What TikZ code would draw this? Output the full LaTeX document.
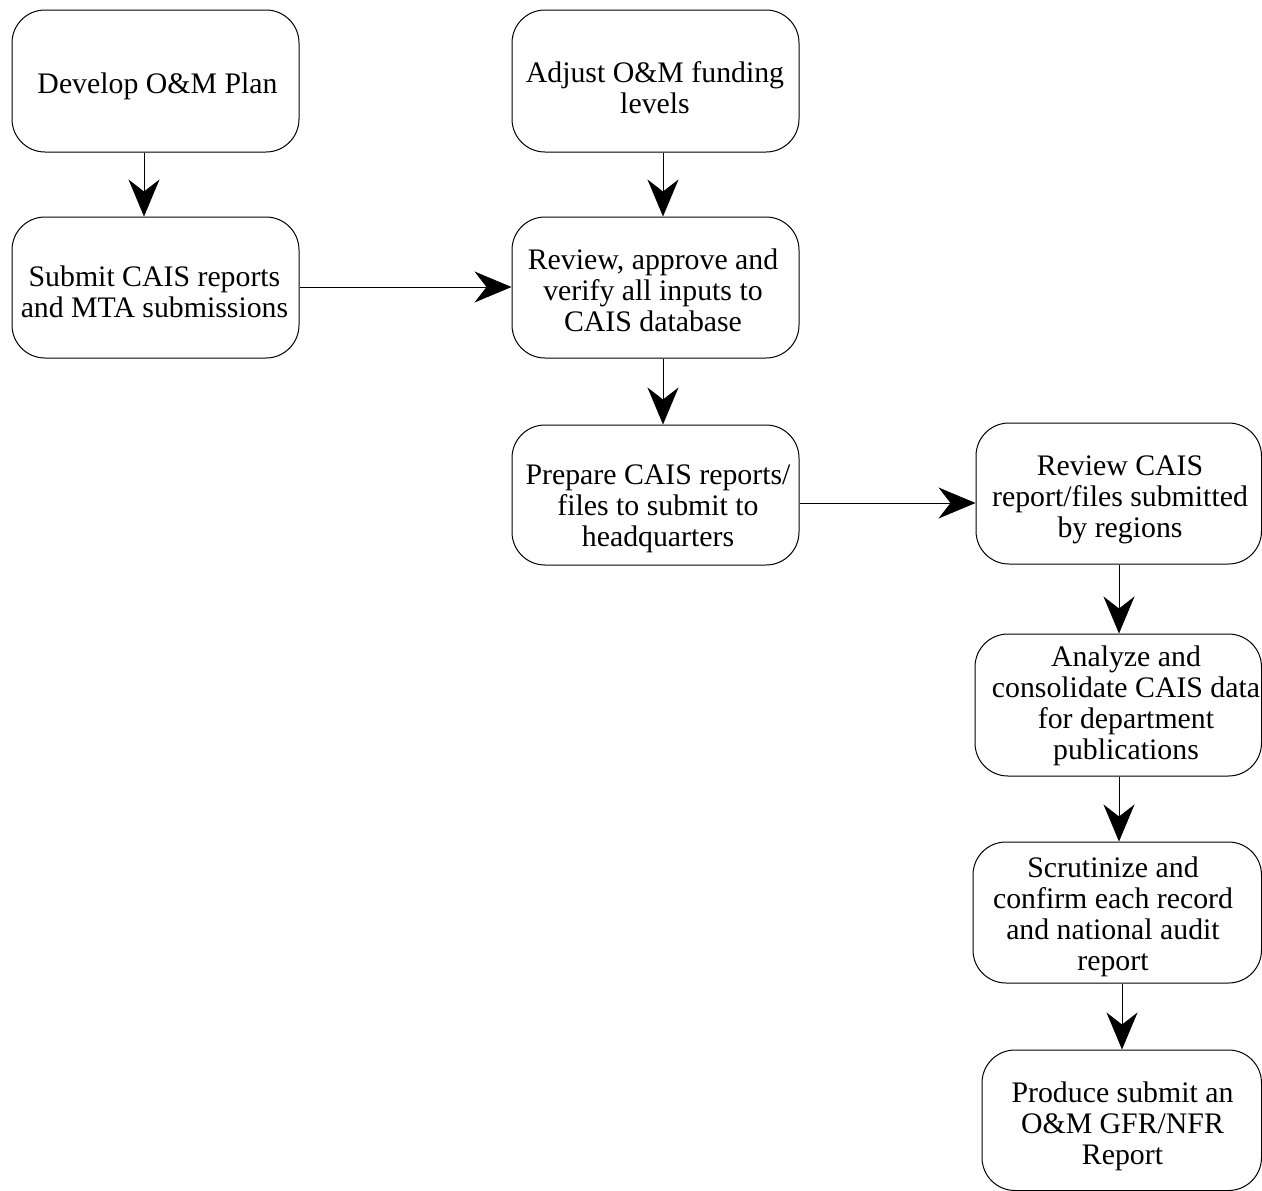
\documentclass[tikz,border=0pt]{standalone}
\usepackage{fontspec}
\setmainfont{Liberation Serif}
\usetikzlibrary{arrows.meta}
\begin{document}
\begin{tikzpicture}[x=1pt,y=-1pt,
  procbox/.style={draw, rounded corners=33pt, line width=1pt, inner sep=0pt},
  proctext/.style={inner sep=0pt, align=center, font=\fontsize{29.8}{31}\selectfont},
  flow/.style={line width=0.9pt, -{Stealth[length=37pt,width=31pt,inset=12pt]}}]
\useasboundingbox (0,0) rectangle (1262,1191);
% boxes
\node[procbox, minimum width=287pt, minimum height=142pt] (dev)   at (155.5,81) {};
\node[procbox, minimum width=287pt, minimum height=141pt] (sub)   at (155.5,287.5) {};
\node[procbox, minimum width=287pt, minimum height=142pt] (adj)   at (655.5,81) {};
\node[procbox, minimum width=287pt, minimum height=141pt] (rev)   at (655.5,287.5) {};
\node[procbox, minimum width=287pt, minimum height=140pt] (prep)  at (655.5,495) {};
\node[procbox, minimum width=285.5pt, minimum height=141pt] (rcais) at (1118.75,493.5) {};
\node[procbox, minimum width=286.5pt, minimum height=142pt] (ana)   at (1118.25,705) {};
\node[procbox, minimum width=288.5pt, minimum height=141pt] (scr)   at (1117.25,912.5) {};
\node[procbox, minimum width=279.5pt, minimum height=140.5pt] (prod) at (1121.75,1120.25) {};
% box texts
\node[proctext] (dev-t)   at (157.5,86.8)  {\strut Develop O\&M Plan};
\node[proctext] (sub-t)   at (154.5,295.8) {\strut Submit CAIS reports\\and MTA submissions\strut};
\node[proctext] (adj-t)   at (655,91.3)    {\strut Adjust O\&M funding\\levels\strut};
\node[proctext] (rev-t)   at (653,294.5)   {\strut Review, approve and\\verify all inputs to\\CAIS database\strut};
\node[proctext] (prep-t)  at (658,508.8)   {\strut Prepare CAIS reports/\\files to submit to\\headquarters\strut};
\node[proctext] (rcais-t) at (1120,499.8)  {\strut Review CAIS\\report/files submitted\\by regions\strut};
\node[proctext] (ana-t)   at (1126,706.5)  {\strut Analyze and\\consolidate CAIS data\\for department\\publications\strut};
\node[proctext] (scr-t)   at (1113,917.5)  {\strut Scrutinize and\\confirm each record\\and national audit\\report\strut};
\node[proctext] (prod-t)  at (1122.5,1127) {\strut Produce submit an\\O\&M GFR/NFR\\Report\strut};
% connector lanes
\coordinate (c1) at (144,0);
\coordinate (c2) at (663,0);
\coordinate (c3) at (0,287);
\coordinate (c4) at (0,503);
\coordinate (c5) at (1119,0);
\coordinate (c6) at (1122,0);
% connectors
\draw[flow] (dev.south -| c1) -- (sub.north -| c1);
\draw[flow] (sub.east |- c3) -- (rev.west |- c3);
\draw[flow] (adj.south -| c2) -- (rev.north -| c2);
\draw[flow] (rev.south -| c2) -- (prep.north -| c2);
\draw[flow] (prep.east |- c4) -- (rcais.west |- c4);
\draw[flow] (rcais.south -| c5) -- (ana.north -| c5);
\draw[flow] (ana.south -| c5) -- (scr.north -| c5);
\draw[flow] (scr.south -| c6) -- (prod.north -| c6);
\end{tikzpicture}
\end{document}
